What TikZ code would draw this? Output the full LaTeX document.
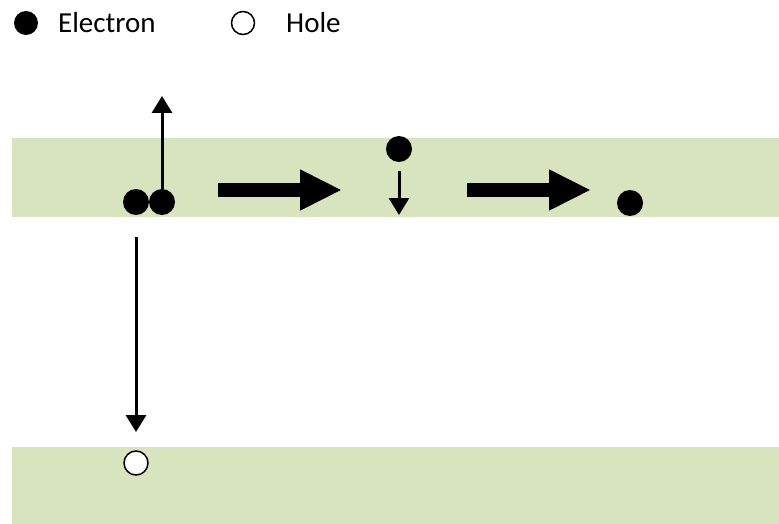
\documentclass[tikz,border=0pt]{standalone}
\usepackage{fontspec}
\setmainfont{Carlito}
\usepackage{tikz}
\usetikzlibrary{arrows.meta}
\definecolor{bandgreen}{HTML}{D7E4BD}

\begin{document}
\begin{tikzpicture}[x=1pt,y=-1pt,
  electron/.style={circle,fill=black,inner sep=0pt,minimum size=26pt},
  hole/.style={circle,draw=black,line width=1.5pt,fill=white,inner sep=0pt,minimum size=24pt},
  thinarrow/.style={line width=3pt,-{Triangle[length=17pt,width=20pt]}},
  bigarrow/.style={line width=14pt,-{Triangle[length=42pt,width=38pt]}},
  legendtext/.style={anchor=base west,inner sep=0pt,font=\fontsize{29}{32}\selectfont}]

\useasboundingbox (0,0) rectangle (779,524);

% Bands
\fill[bandgreen] (12,138) rectangle (779,217);   % conduction band
\fill[bandgreen] (12,447) rectangle (779,524);   % valence band

% Legend
\node[electron,minimum size=24pt] (legE) at (26,23) {};
\node[legendtext] (legEtext) at (58,33) {Electron};
\node[hole,minimum size=23pt] (legH) at (243,23) {};
\node[legendtext] (legHtext) at (286,33) {Hole};

% Carriers
\node[electron] (e1) at (136,202) {};
\node[electron] (e2) at (162,202) {};
\node[electron] (e3) at (399,149) {};
\node[electron] (e4) at (630,203) {};
\node[hole] (h1) at (136,463) {};

% Free arrow ends
\coordinate (upend) at (162,96);
\coordinate (downstart) at (136,237);
\coordinate (downend) at (136,432);
\coordinate (smallstart) at (399,171);
\coordinate (smallend) at (399,215);

% Arrows
\draw[thinarrow] (e2.north) -- (upend);
\draw[thinarrow] (downstart) -- (downend);
\draw[thinarrow] (smallstart) -- (smallend);
\draw[bigarrow] (218,190) -- (342,190);
\draw[bigarrow] (467,190) -- (591,190);

\end{tikzpicture}
\end{document}
